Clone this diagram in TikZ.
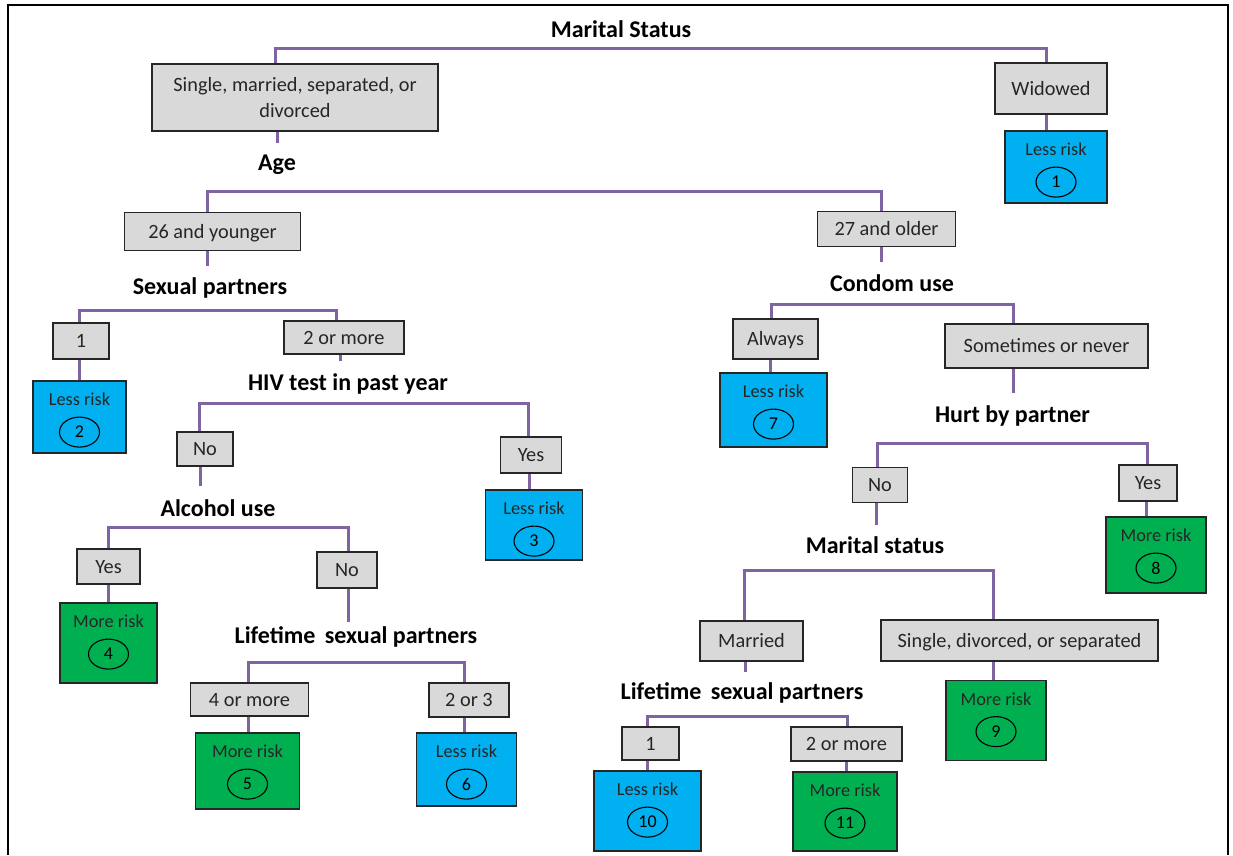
\documentclass[tikz,border=0pt]{standalone}
\usepackage{fontspec}
\setmainfont{Carlito}
\usetikzlibrary{shapes.geometric,backgrounds}

\definecolor{boxgray}{HTML}{D9D9D9}
\definecolor{riskblue}{HTML}{00B0F0}
\definecolor{riskgreen}{HTML}{00B050}
\definecolor{branch}{HTML}{8064A2}
\definecolor{edge}{HTML}{262626}

\tikzset{
  hdr/.style={font=\fontsize{24}{28}\selectfont\bfseries, inner sep=0pt,
    text height=16.5pt, text depth=5.5pt, text=black, yshift=-2pt},
  catbase/.style={draw=edge, line width=1.8pt, fill=boxgray,
    font=\fontsize{20.3}{26}\selectfont, text=edge, inner sep=0pt, align=center},
  cat/.style={catbase, text height=17pt, text depth=4pt},
  less/.style={draw=edge, line width=1.8pt, fill=riskblue, inner sep=0pt},
  more/.style={draw=edge, line width=1.8pt, fill=riskgreen, inner sep=0pt},
  risktext/.style={font=\fontsize{18.3}{21}\selectfont, text=black!85,
    inner sep=0pt, text height=13.7pt, text depth=4.6pt},
  numoval/.style={ellipse, draw=black, line width=1.1pt, minimum width=40pt,
    minimum height=30pt, inner sep=0pt, font=\fontsize{18}{20}\selectfont},
  link/.style={draw=branch, line width=3pt},
  frame/.style={draw=black, line width=2.5pt},
}

% outcome box: name, x, y, width, height, style, label, number
\newcommand{\riskbox}[8]{%
  \node[#6, minimum width=#4, minimum height=#5] (#1) at (#2,#3) {};
  \node[risktext] (#1-t) at ([yshift=-21pt]#1.north) {#7};
  \node[numoval] (#1-n) at ([yshift=-52pt]#1.north) {#8};
}
% branch bar: left child, right child, left x, right x, bar y, id
\newcommand{\splitbar}[6]{%
  \coordinate (#6-l) at (#3,#5); \coordinate (#6-r) at (#4,#5);
  \draw[link] (#6-l |- #1.north) -- (#6-l) -- (#6-r) -- (#6-r |- #2.north);
}
% short stem below a box: node, x, end y, id
\newcommand{\stem}[4]{%
  \coordinate (#4) at (#2,#3); \draw[link] (#4 |- #1.south) -- (#4);
}
% straight drop from a box to its outcome: upper, lower, x, id
\newcommand{\drop}[4]{%
  \coordinate (#4) at (#3,0); \draw[link] (#4 |- #1.south) -- (#4 |- #2.north);
}

\begin{document}
\begin{tikzpicture}[x=1pt,y=-1pt]
\useasboundingbox (0,0) rectangle (1233,855);

% outer frame, open at the bottom
\draw[frame] (8,855) -- (8,5) -- (1228,5) -- (1228,855);

% ---- top level
\node[hdr] (h-marital) at (621,30) {Marital Status};
\node[catbase, minimum width=286, minimum height=67] (sm) at (295,97.5)
  {Single, married, separated, or\\divorced};
\node[cat, minimum width=112, minimum height=51] (wid) at (1051,88.5) {Widowed};
\riskbox{r1}{1056}{167}{102}{72}{less}{Less risk}{1}

% ---- age
\node[hdr] (h-age) at (277,163) {Age};
\node[cat, minimum width=176, minimum height=38] (y26) at (212.5,231.5) {26 and younger};
\node[cat, minimum width=138, minimum height=35] (o27) at (886.5,229) {27 and older};

% ---- left branch
\node[hdr] (h-sex) at (210,287) {Sexual partners};
\node[cat, minimum width=56, minimum height=36] (sp1) at (81,341) {1};
\node[cat, minimum width=120, minimum height=33] (sp2) at (344,337.5) {2 or more};
\riskbox{r2}{79.5}{417}{93}{72}{less}{Less risk}{2}

\node[hdr] (h-hiv) at (348,383) {HIV test in past year};
\node[cat, minimum width=56, minimum height=34] (hno) at (205,449) {No};
\node[cat, minimum width=61, minimum height=36] (hyes) at (531,455) {Yes};
\riskbox{r3}{534}{525}{97}{70}{less}{Less risk}{3}

\node[hdr] (h-alc) at (218,509) {Alcohol use};
\node[cat, minimum width=63, minimum height=35] (ayes) at (108.5,566.5) {Yes};
\node[cat, minimum width=60, minimum height=36] (ano) at (347,570) {No};
\riskbox{r4}{108.5}{643}{97}{80}{more}{More risk}{4}

\node[hdr] (h-life1) at (356,636) {Lifetime\hspace{4pt} sexual partners};
\node[cat, minimum width=118, minimum height=33] (l4) at (249.5,699.5) {4 or more};
\node[cat, minimum width=80, minimum height=34] (l23) at (469,700) {2 or 3};
\riskbox{r5}{247.5}{771}{104}{76}{more}{More risk}{5}
\riskbox{r6}{466.5}{769.5}{100}{73}{less}{Less risk}{6}

% ---- right branch
\node[hdr] (h-condom) at (892,284) {Condom use};
\node[cat, minimum width=85, minimum height=40] (alw) at (775.5,339) {Always};
\node[cat, minimum width=203, minimum height=44] (son) at (1046.5,346) {Sometimes or never};
\riskbox{r7}{773.5}{410}{107}{74}{less}{Less risk}{7}

\node[hdr] (h-hurt) at (1012.5,414.5) {Hurt by partner};
\node[cat, minimum width=55, minimum height=35] (hbno) at (880,485) {No};
\node[cat, minimum width=58, minimum height=36] (hbyes) at (1148,483) {Yes};
\riskbox{r8}{1156}{555}{100}{76}{more}{More risk}{8}

\node[hdr] (h-mar2) at (875,545.5) {Marital status};
\node[cat, minimum width=103, minimum height=40] (mar) at (751.5,641) {Married};
\node[cat, minimum width=277, minimum height=41] (sds) at (1019.5,640.5) {Single, divorced, or separated};
\riskbox{r9}{996}{720.5}{100}{80}{more}{More risk}{9}

\node[hdr] (h-life2) at (742,692) {Lifetime\hspace{4pt} sexual partners};
\node[cat, minimum width=57, minimum height=33] (m1) at (650.5,743.5) {1};
\node[cat, minimum width=111, minimum height=34] (m2) at (846.5,744) {2 or more};
\riskbox{r10}{647.5}{811}{107}{80}{less}{Less risk}{10}
\riskbox{r11}{845}{811.5}{104}{79}{more}{More risk}{11}

% ---- connectors, kept beneath the boxes
\begin{scope}[on background layer]
  \splitbar{sm}{wid}{275}{1046}{48}{bar-ms}
  \splitbar{y26}{o27}{207}{881}{191}{bar-age}
  \splitbar{sp1}{sp2}{79}{336}{310}{bar-sex}
  \splitbar{hno}{hyes}{199}{528}{403}{bar-hiv}
  \splitbar{ayes}{ano}{108}{348}{527}{bar-alc}
  \splitbar{l4}{l23}{248}{464}{662}{bar-life1}
  \splitbar{alw}{son}{771}{1013}{304}{bar-condom}
  \splitbar{hbno}{hbyes}{877}{1147}{443}{bar-hurt}
  \splitbar{mar}{sds}{744}{993}{570}{bar-mar2}
  \splitbar{m1}{m2}{647}{847}{716}{bar-life2}

  \stem{sm}{277}{143}{st-sm}
  \stem{y26}{207}{266}{st-y26}
  \stem{sp2}{340}{361}{st-sp2}
  \stem{hno}{200}{486}{st-hno}
  \stem{ano}{348}{622}{st-ano}
  \stem{o27}{881}{262}{st-o27}
  \stem{son}{1013}{393}{st-son}
  \stem{hbno}{876}{525}{st-hbno}
  \stem{mar}{745}{672}{st-mar}

  \drop{wid}{r1}{1046}{dr-1}
  \drop{sp1}{r2}{79}{dr-2}
  \drop{hyes}{r3}{529}{dr-3}
  \drop{ayes}{r4}{108}{dr-4}
  \drop{l4}{r5}{248}{dr-5}
  \drop{l23}{r6}{464}{dr-6}
  \drop{alw}{r7}{770}{dr-7}
  \drop{hbyes}{r8}{1146}{dr-8}
  \drop{sds}{r9}{993}{dr-9}
  \drop{m1}{r10}{647}{dr-10}
  \drop{m2}{r11}{846}{dr-11}
\end{scope}
\end{tikzpicture}
\end{document}
